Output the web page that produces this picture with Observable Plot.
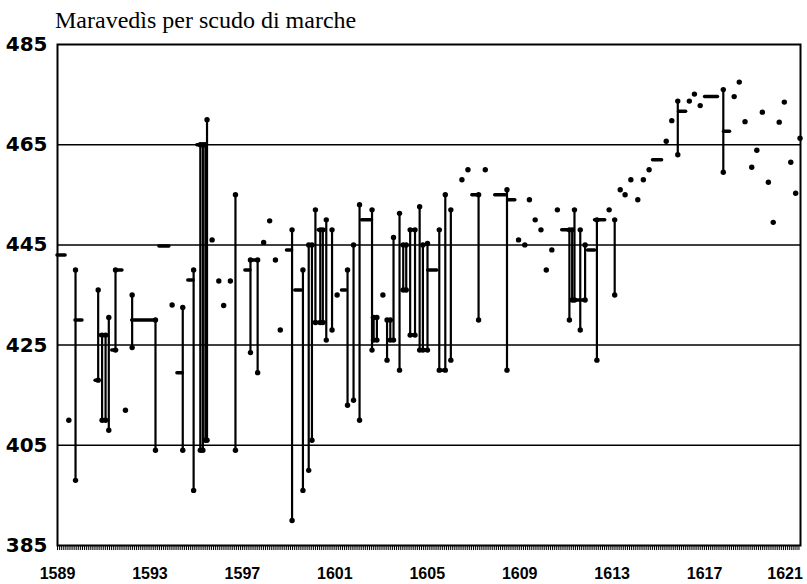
<!DOCTYPE html>
<html>
<head>
<meta charset="utf-8">
<script src="https://cdn.jsdelivr.net/npm/d3@7"></script>
<script src="https://cdn.jsdelivr.net/npm/@observablehq/plot@0.6"></script>
<style>
  body { margin: 0; background: #fff; }
  #title { height: 34px; box-sizing: border-box; padding-top: 8px; padding-left: 55px;
           font-family: "Liberation Serif", "Times New Roman", serif; font-size: 24px; line-height: 24px; color: #000; white-space: nowrap; }
  #chart svg { display: block; overflow: visible; }
</style>
</head>
<body>
<div id="title">Maravedìs per scudo di marche</div>
<div id="chart"></div>
<script>
// Monthly high-low ranges (vertical segments with dots at both ends)
const barYear = [1589.78,1590.76,1590.93,1591.08,1591.22,1591.51,1592.23,1593.24,1594.42,1594.89,1595.18,1595.29,1595.40,1595.47,1596.70,1597.35,1597.66,1599.15,1599.62,1599.87,1600.01,1600.16,1600.37,1600.48,1600.63,1600.88,1601.55,1601.81,1602.07,1602.61,1602.68,1602.82,1603.26,1603.40,1603.54,1603.80,1603.96,1604.09,1604.26,1604.47,1604.67,1604.81,1605.01,1605.52,1605.78,1606.02,1607.22,1608.45,1611.15,1611.27,1611.37,1611.62,1611.83,1612.34,1613.11,1615.84,1617.81];
const barHigh = [440,436,427,427,430.5,440,435,430,432.5,440,465,465,465,470,455,442,442,448,440,445,445,452,448,448,450,448,440,445,453,452,430.5,430.5,430,430,446.5,451.3,445,445,448,448,452.6,445,445.3,448,455,452,455,456,448,448,452,448,445,450,450,473.7,476];
const barLow  = [398,418,410,410,408,424,424.5,404,404,396,404,404,406,406,404,423.5,419.5,390,396,400,406,429.5,429.5,429.5,426,428,413,414,410,424,426,426,422,426,426,420,436,436,427,427,424,424,424,420,420,422,430,420,430,434,434,428,434,422,435,463,459.5];

// Single quotations (isolated dots)
const dotYear  = [1589.49,1591.94,1593.96,1595.69,1595.98,1596.19,1596.48,1597.92,1598.18,1598.43,1598.64,1601.10,1603.08,1606.50,1606.76,1607.51,1608.95,1609.22,1609.42,1609.67,1609.92,1610.15,1610.39,1610.63,1612.87,1613.35,1613.56,1613.81,1614.11,1614.35,1614.60,1615.34,1615.58,1616.34,1616.56,1616.81,1618.28,1618.50,1618.75,1619.04,1619.26,1619.50,1619.76,1619.97,1620.23,1620.45,1620.73,1620.94,1621.13];
const dotValue = [410,412,433,446,437.8,432.9,437.8,445.5,449.8,442,428,435,435,458,460,460,446,445,454,450,448,440,444,452,452,456,455,458,454,458,460,465.7,469.8,473.7,475.1,472.8,474.6,477.5,469.6,460.5,463.9,471.5,457.5,449.5,469.5,473.5,461.5,455.3,466.3];

// Horizontal connectors (short level segments)
const dashStart = [1589.0,1589.78,1590.65,1590.85,1590.93,1591.51,1591.37,1592.23,1593.41,1594.19,1594.66,1595.05,1597.13,1597.35,1598.93,1599.29,1600.30,1600.20,1601.31,1602.18,1602.65,1602.65,1603.93,1603.93,1604.26,1604.26,1604.67,1605.04,1605.52,1606.95,1607.94,1608.50,1610.84,1611.27,1611.96,1612.26,1614.77,1615.90,1617.02,1617.84];
const dashEnd   = [1589.35,1590.08,1590.80,1591.15,1591.08,1591.81,1591.58,1593.24,1593.84,1594.42,1594.89,1595.20,1597.35,1597.66,1599.15,1599.58,1600.55,1600.55,1601.50,1602.61,1602.85,1602.85,1604.12,1604.12,1604.47,1604.47,1605.01,1605.43,1605.78,1607.22,1608.40,1608.81,1611.15,1611.83,1612.26,1612.70,1615.16,1616.20,1617.58,1618.10];
const dashValue = [443,430,418,427,410,440,424,430,444.8,419.5,438,465,440,442,444,436,448,429.5,436,450,430.5,426,445,436,448,427,424,440,420,455,455,454,448,434,444,450,462,471.7,474.6,467.7];

// Axis ticks
const yTicks = [385,405,425,445,465,485];
const gridValues = [405,425,445,465];
const yearLabels = [1589,1593,1597,1601,1605,1609,1613,1617];
const lastYearLabel = [1621];
const monthTicks = d3.range(0, 32 * 12 + 2).map(i => 1589 + i / 12);

const bars = barYear.map((x, i) => ({x, hi: barHigh[i], lo: barLow[i]}));
const dots = dotYear.map((x, i) => ({x, y: dotValue[i]}));
const dashes = dashStart.map((x1, i) => ({x1, x2: dashEnd[i], y: dashValue[i]}));

const xLabelStyle = {tickSize: 0, tickPadding: 22, tickFormat: d => String(d),
  fontSize: 16, fontWeight: "bold", fontFamily: "Liberation Sans, Arial, sans-serif", fill: "#000"};

const chart = Plot.plot({
  width: 807,
  height: 550,
  marginTop: 10,
  marginBottom: 39,
  marginLeft: 57,
  marginRight: 7,
  style: {overflow: "visible"},
  x: {domain: [1589, 1621.15]},
  y: {domain: [385, 485]},
  marks: [
    Plot.ruleY(gridValues, {stroke: "#000", strokeWidth: 1.5}),
    Plot.ruleX(bars, {x: "x", y1: "lo", y2: "hi", stroke: "#000", strokeWidth: 2.2}),
    Plot.ruleY(dashes, {y: "y", x1: "x1", x2: "x2", stroke: "#000", strokeWidth: 3.5, strokeLinecap: "round"}),
    Plot.dot(bars, {x: "x", y: "hi", r: 2.7, fill: "#000", stroke: null}),
    Plot.dot(bars, {x: "x", y: "lo", r: 2.7, fill: "#000", stroke: null}),
    Plot.dot(dots, {x: "x", y: "y", r: 2.7, fill: "#000", stroke: null}),
    Plot.frame({stroke: "#000", strokeWidth: 2}),
    Plot.axisX({ticks: monthTicks, tickSize: 5, tickFormat: () => "", strokeWidth: 1}),
    Plot.axisX({ticks: yearLabels, ...xLabelStyle}),
    Plot.axisX({ticks: lastYearLabel, ...xLabelStyle, dx: -12}),
    Plot.axisY({ticks: yTicks, tickSize: 0, tickPadding: 10, tickFormat: d => String(d),
                fontSize: 20, fontWeight: "bold", fontFamily: "DejaVu Sans, sans-serif", fill: "#000"})
  ]
});
document.getElementById("chart").appendChild(chart);
</script>
</body>
</html>
